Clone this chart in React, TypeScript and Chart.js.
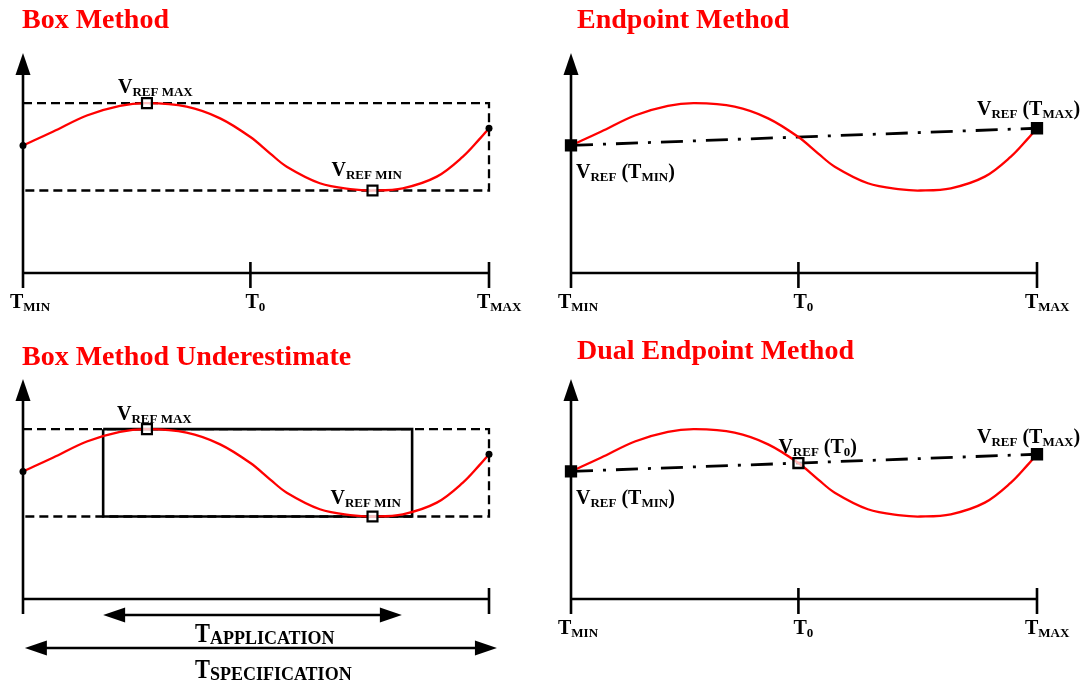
import React, { useEffect, useRef } from "react";
import { Chart, registerables } from "chart.js";

Chart.register(...registerables);

// ---------------- data ----------------
// Temperature axis: 0 = T_MIN, 100 = T_MAX ; voltage axis 0..100 (arbitrary units)
const curveX = [0, 6.4, 13.7, 20.8, 26.6, 35.1, 42.3, 48.8, 53.0, 56.6, 63.7, 70.8, 75.0, 81.5, 88.8, 94.4, 98.1, 100];
const curveY = [58, 64.2, 71.6, 76.0, 77.2, 75.6, 70.3, 61.8, 54.4, 48.3, 40.8, 38.0, 37.5, 38.5, 43.8, 52.9, 61.2, 65.8];

const tickValues = [0, 48.8, 100];
const tickNames = ["MIN", "0", "MAX"];

const vrefLevels = [77.2, 37.5]; // V_REF MAX, V_REF MIN
const extremaX = [26.6, 75.0];

const endpointX = [0, 100];
const endpointY = [58, 65.8];

const dualX = [0, 48.8, 100];
const dualY = [58, 61.8, 65.8];

const applicationBox = [17.2, 83.5];
const applicationArrow = [17.2, 81.3];
const specificationArrow = [0.4, 101.7];
const arrowLevels = [-7.3, -22.3];

const titles = ["Box Method", "Endpoint Method", "Box Method Underestimate", "Dual Endpoint Method"];

// ---------------- styling ----------------
const RED = "#ff0000";
const BLACK = "#000000";
const FONT = '"Liberation Serif", "Times New Roman", serif';

type Part = [string, boolean];

function drawRich(
  ctx: CanvasRenderingContext2D,
  x: number,
  y: number,
  parts: Part[],
  main: number,
  sub: number,
  dy: number,
  squish = 1
) {
  let cx = x;
  ctx.textBaseline = "alphabetic";
  ctx.textAlign = "left";
  for (const [t, isSub] of parts) {
    const size = isSub ? sub : main;
    ctx.font = `bold ${size}px ${FONT}`;
    const w = ctx.measureText(t).width;
    if (!isSub && squish !== 1) {
      ctx.save();
      ctx.translate(cx, y);
      ctx.scale(squish, 1);
      ctx.fillText(t, 0, 0);
      ctx.restore();
      cx += w * squish;
    } else {
      ctx.fillText(t, cx, isSub ? y + dy : y);
      cx += w;
    }
  }
}

const vref = (s: string): Part[] => [["V", false], ["REF " + s, true]];
const vrefT = (s: string): Part[] => [["V", false], ["REF", true], [" (T", false], [s, true], [")", false]];

type Label = { ax: number; ay: number; dx: number; dy: number; parts: Part[] };

type Panel = {
  key: string;
  left: number;
  top: number;
  w: number;
  h: number;
  pad: { left: number; right: number; top: number; bottom: number };
  title: string;
  titleAt: [number, number];
  ticks: number[];
  tickLabels: boolean;
  labels: Label[];
  kind: "box" | "endpoint" | "under" | "dual";
};

const PANELS: Panel[] = [
  {
    key: "box",
    left: 0,
    top: 0,
    w: 540,
    h: 330,
    pad: { left: 23, right: 51, top: 53, bottom: 57 },
    title: titles[0],
    titleAt: [22, 28],
    ticks: [tickValues[1], tickValues[2]],
    tickLabels: true,
    kind: "box",
    labels: [
      { ax: extremaX[0], ay: vrefLevels[0], dx: -29, dy: -10, parts: vref("MAX") },
      { ax: extremaX[1], ay: vrefLevels[1], dx: -41, dy: -15, parts: vref("MIN") },
    ],
  },
  {
    key: "endpoint",
    left: 540,
    top: 0,
    w: 544,
    h: 330,
    pad: { left: 31, right: 47, top: 53, bottom: 57 },
    title: titles[1],
    titleAt: [37, 28],
    ticks: [tickValues[1], tickValues[2]],
    tickLabels: true,
    kind: "endpoint",
    labels: [
      { ax: endpointX[0], ay: endpointY[0], dx: 5, dy: 33, parts: vrefT("MIN") },
      { ax: endpointX[1], ay: endpointY[1], dx: -60, dy: -13, parts: vrefT("MAX") },
    ],
  },
  {
    key: "under",
    left: 0,
    top: 330,
    w: 540,
    h: 353,
    pad: { left: 23, right: 51, top: 49, bottom: 84 },
    title: titles[2],
    titleAt: [22, 35],
    ticks: [tickValues[2]],
    tickLabels: false,
    kind: "under",
    labels: [
      { ax: extremaX[0], ay: vrefLevels[0], dx: -30, dy: -9, parts: vref("MAX") },
      { ax: extremaX[1], ay: vrefLevels[1], dx: -42, dy: -13, parts: vref("MIN") },
    ],
  },
  {
    key: "dual",
    left: 540,
    top: 330,
    w: 544,
    h: 353,
    pad: { left: 31, right: 47, top: 49, bottom: 84 },
    title: titles[3],
    titleAt: [37, 29],
    ticks: [tickValues[1], tickValues[2]],
    tickLabels: true,
    kind: "dual",
    labels: [
      { ax: dualX[0], ay: dualY[0], dx: 5, dy: 33, parts: vrefT("MIN") },
      { ax: dualX[1], ay: dualY[1], dx: -20, dy: -10, parts: [["V", false], ["REF", true], [" (T", false], ["0", true], [")", false]] },
      { ax: dualX[2], ay: dualY[2], dx: -60, dy: -11, parts: vrefT("MAX") },
    ],
  },
];

const pts = (xs: number[], ys: number[]) => xs.map((x, i) => ({ x, y: ys[i] }));

function buildDatasets(kind: Panel["kind"]): any[] {
  const curve = {
    data: pts(curveX, curveY),
    borderColor: RED,
    borderWidth: 2.3,
    pointRadius: 0,
    tension: 0.35,
    fill: false,
    clip: false,
    order: 2,
  };
  const ds: any[] = [curve];
  if (kind === "box" || kind === "under") {
    const [vmax, vmin] = vrefLevels;
    ds.push({
      data: pts([extremaX[0], extremaX[1]], [vmax, vmin]),
      showLine: false,
      pointStyle: "rect",
      pointRadius: 7,
      borderWidth: 2.2,
      borderColor: BLACK,
      backgroundColor: "rgba(255,255,255,0.75)",
      clip: false,
      order: 0,
    });
    ds.push({
      data: pts(endpointX, endpointY),
      showLine: false,
      pointStyle: "circle",
      pointRadius: 3.5,
      borderWidth: 0,
      backgroundColor: BLACK,
      clip: false,
      order: 1,
    });
    ds.push({
      data: pts([0, 100, 100, 0], [vmax, vmax, vmin, vmin]),
      borderColor: BLACK,
      borderWidth: 2.3,
      borderDash: [9, 5],
      tension: 0,
      pointRadius: 0,
      fill: false,
      clip: false,
      order: 4,
    });
    if (kind === "under") {
      const [a, b] = applicationBox;
      ds.push({
        data: pts([a, b, b, a, a], [vmax, vmax, vmin, vmin, vmax]),
        borderColor: BLACK,
        borderWidth: 2.6,
        tension: 0,
        pointRadius: 0,
        fill: false,
        clip: false,
        order: 3,
      });
    }
  } else {
    const xs = kind === "dual" ? dualX : endpointX;
    const ys = kind === "dual" ? dualY : endpointY;
    ds.push({
      data: pts(xs, ys),
      showLine: false,
      pointStyle: "rect",
      pointRadius: 7,
      borderWidth: 2.4,
      borderColor: BLACK,
      backgroundColor: xs.map((x) => (x === tickValues[1] ? "rgba(255,255,255,0.7)" : BLACK)),
      clip: false,
      order: 0,
    });
    ds.push({
      data: pts(xs, ys),
      borderColor: BLACK,
      borderWidth: 2.8,
      borderDash: [22, 10, 3, 10],
      tension: 0,
      pointRadius: 0,
      fill: false,
      clip: false,
      order: 3,
    });
  }
  return ds;
}

function arrow(ctx: CanvasRenderingContext2D, xa: number, xb: number, y: number) {
  const L = 22;
  const H = 7.5;
  ctx.beginPath();
  ctx.moveTo(xa + L - 2, y);
  ctx.lineTo(xb - L + 2, y);
  ctx.stroke();
  ctx.beginPath();
  ctx.moveTo(xa, y);
  ctx.lineTo(xa + L, y - H);
  ctx.lineTo(xa + L, y + H);
  ctx.closePath();
  ctx.fill();
  ctx.beginPath();
  ctx.moveTo(xb, y);
  ctx.lineTo(xb - L, y - H);
  ctx.lineTo(xb - L, y + H);
  ctx.closePath();
  ctx.fill();
}

function makePlugin(p: Panel) {
  return {
    id: "diagram_" + p.key,
    beforeDatasetsDraw(chart: any) {
      const ctx: CanvasRenderingContext2D = chart.ctx;
      const xs = chart.scales.x;
      const ys = chart.scales.y;
      const ax = xs.getPixelForValue(0);
      const x1 = xs.getPixelForValue(100);
      const y0 = ys.getPixelForValue(0);
      const yTop = ys.getPixelForValue(100);
      ctx.save();
      ctx.strokeStyle = BLACK;
      ctx.fillStyle = BLACK;
      ctx.lineWidth = 2.6;
      ctx.lineCap = "butt";
      ctx.beginPath();
      ctx.moveTo(ax, yTop + 18);
      ctx.lineTo(ax, y0 + 15);
      ctx.stroke();
      ctx.beginPath();
      ctx.moveTo(ax, yTop);
      ctx.lineTo(ax - 7.5, yTop + 22);
      ctx.lineTo(ax + 7.5, yTop + 22);
      ctx.closePath();
      ctx.fill();
      ctx.beginPath();
      ctx.moveTo(ax, y0);
      ctx.lineTo(x1, y0);
      ctx.stroke();
      for (const t of p.ticks) {
        const px = xs.getPixelForValue(t);
        ctx.beginPath();
        ctx.moveTo(px, y0 - 11);
        ctx.lineTo(px, y0 + 15);
        ctx.stroke();
      }
      ctx.restore();
    },
    afterDatasetsDraw(chart: any) {
      const ctx: CanvasRenderingContext2D = chart.ctx;
      const xs = chart.scales.x;
      const ys = chart.scales.y;
      const y0 = ys.getPixelForValue(0);
      ctx.save();
      ctx.fillStyle = RED;
      ctx.font = `bold 28px ${FONT}`;
      ctx.textAlign = "left";
      ctx.textBaseline = "alphabetic";
      ctx.fillText(p.title, p.titleAt[0], p.titleAt[1]);
      ctx.fillStyle = BLACK;
      if (p.tickLabels) {
        const offs = [-13, -5, -12];
        tickValues.forEach((t, i) => {
          const px = xs.getPixelForValue(t);
          drawRich(ctx, px + offs[i], y0 + 35, [["T", false], [tickNames[i], true]], 20, 13, 3);
        });
      }
      for (const l of p.labels) {
        const px = xs.getPixelForValue(l.ax);
        const py = ys.getPixelForValue(l.ay);
        drawRich(ctx, px + l.dx, py + l.dy, l.parts, 20, 13, 3);
      }
      if (p.kind === "under") {
        ctx.strokeStyle = BLACK;
        ctx.lineWidth = 2.6;
        const ya = ys.getPixelForValue(arrowLevels[0]);
        const yb = ys.getPixelForValue(arrowLevels[1]);
        arrow(ctx, xs.getPixelForValue(applicationArrow[0]), xs.getPixelForValue(applicationArrow[1]), ya);
        arrow(ctx, xs.getPixelForValue(specificationArrow[0]), xs.getPixelForValue(specificationArrow[1]), yb);
        const lx = xs.getPixelForValue(0) + 172;
        drawRich(ctx, lx, ya + 27, [["T", false], ["APPLICATION", true]], 28, 18, 2, 0.8);
        drawRich(ctx, lx, yb + 30, [["T", false], ["SPECIFICATION", true]], 28, 18, 2, 0.8);
      }
      ctx.restore();
    },
  };
}

function buildConfig(p: Panel): any {
  return {
    type: "line",
    data: { datasets: buildDatasets(p.kind) },
    options: {
      responsive: false,
      maintainAspectRatio: false,
      animation: false,
      events: [],
      layout: { padding: p.pad },
      plugins: {
        legend: { display: false },
        tooltip: { enabled: false },
        title: { display: false },
      },
      scales: {
        x: { type: "linear", min: 0, max: 100, display: false },
        y: { type: "linear", min: 0, max: 100, display: false },
      },
    },
    plugins: [makePlugin(p)],
  };
}

export default function App() {
  const refs = useRef<(HTMLCanvasElement | null)[]>([]);
  useEffect(() => {
    const charts = PANELS.map((p, i) => new Chart(refs.current[i] as HTMLCanvasElement, buildConfig(p)));
    return () => charts.forEach((c) => c.destroy());
  }, []);
  return (
    <div
      style={{
        position: "absolute",
        left: 0,
        top: 0,
        width: 1084,
        height: 683,
        background: "#ffffff",
        overflow: "hidden",
      }}
    >
      {PANELS.map((p, i) => (
        <canvas
          key={p.key}
          ref={(el) => {
            refs.current[i] = el;
          }}
          width={p.w}
          height={p.h}
          style={{ position: "absolute", left: p.left, top: p.top, width: p.w, height: p.h }}
        />
      ))}
    </div>
  );
}
